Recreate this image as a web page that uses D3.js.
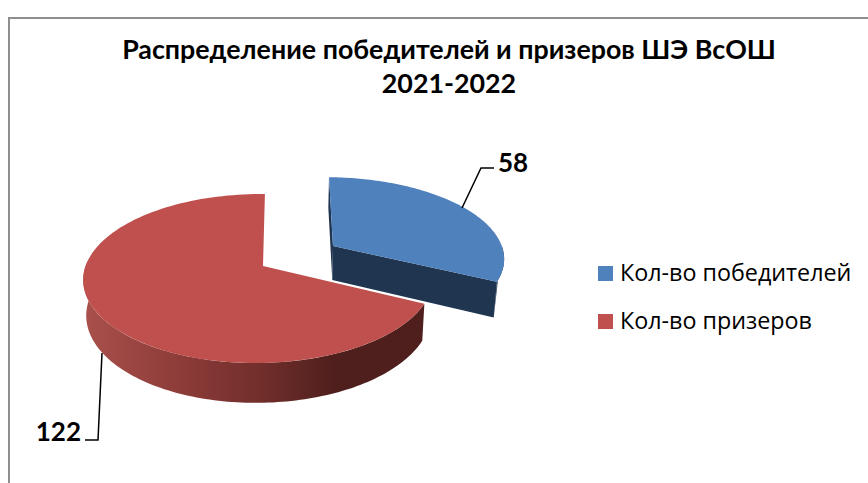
<!DOCTYPE html>
<html lang="ru">
<head>
<meta charset="utf-8">
<title>Распределение победителей и призеров</title>
<script src="https://cdn.jsdelivr.net/npm/d3@7"></script>
<style>
html, body { margin: 0; padding: 0; background: #fff; }
svg { display: block; }
text { font-family: Lato, "Noto Sans", sans-serif; fill: #000; }
</style>
</head>
<body>
<script>
var categories = ["Кол-во победителей", "Кол-во призеров"];
var values = [58, 122];
var titleLines = ["Распределение победителей и призеров ШЭ ВсОШ", "2021-2022"];
var topColors = ["#4f81bd", "#c0504d"];

var w = 868, h = 483;
// flat pie seen from above in perspective
var R = 173, S = 82.6, kY = 0.148, kX = 0.025;
var centers = [[333, 246], [263, 266]];
var depthScale = [0.95, 1]; // the exploded slice is further back, so flatter
var vanishX = 285;

var svg = d3.select("body").append("svg").attr("width", w).attr("height", h);

var grad = svg.append("defs").append("linearGradient")
    .attr("id", "redWall").attr("gradientUnits", "userSpaceOnUse")
    .attr("x1", 88).attr("x2", 425).attr("y1", 0).attr("y2", 0);
[[0, "#a84f4b"], [0.3, "#8a3a37"], [0.52, "#702e2b"], [0.73, "#4f1f1d"], [1, "#4f1f1d"]].forEach(function(s) {
    grad.append("stop").attr("offset", s[0]).attr("stop-color", s[1]);
});

// frame, open on the right and at the bottom
svg.append("path")
    .attr("d", d3.line()([[9, h], [9, 18], [w, 18]]))
    .attr("fill", "none").attr("stroke", "#8e8e8e").attr("stroke-width", 2);

svg.selectAll("text.title").data(titleLines).enter().append("text")
    .attr("class", "title")
    .attr("x", 449)
    .attr("y", function(d, i) { return 59 + i * 34; })
    .attr("text-anchor", "middle")
    .attr("font-size", 26.8)
    .attr("font-weight", 700)
    .text(function(d) { return d; });

var pie = d3.pie().sort(null)(values);
var line = d3.line();

function topPoint(c, a, ry) {
    var u = Math.sin(a), v = -Math.cos(a) * ry;
    var d = 1 - kY * v + kX * u;
    var skew = (c[0] - vanishX) * 0.1;
    return [c[0] + (R * u + skew * v) / d, c[1] + S * v / d];
}
function bottomPoint(p) {
    return [p[0] - (p[0] - vanishX) * 0.015, p[1] + 34 + 0.05 * (p[1] - 246)];
}
function arcPoints(c, a0, a1, ry) {
    var n = 120;
    return d3.range(n + 1).map(function(i) { return topPoint(c, a0 + (a1 - a0) * i / n, ry); });
}

// red slice first, the blue one sits behind and to the right
var red = pie[1], redC = centers[1];
var redArc = arcPoints(redC, red.startAngle, red.endAngle, depthScale[1]);
// the wall stops where the rim turns away, just past the left edge
var redFront = arcPoints(redC, red.startAngle, 1.52 * Math.PI, depthScale[1]);
svg.append("path")
    .attr("d", line(redFront.concat(redFront.map(bottomPoint).reverse())) + "Z")
    .attr("fill", "url(#redWall)");
svg.append("path")
    .attr("d", line([redC].concat(redArc)) + "Z")
    .attr("fill", topColors[1]);

var blue = pie[0], blueC = centers[0];
var blueArc = arcPoints(blueC, blue.startAngle, blue.endAngle, depthScale[0]);
var first = blueArc[0], last = blueArc[blueArc.length - 1];
var blueRim = arcPoints(blueC, 0.5 * Math.PI, blue.endAngle, depthScale[0]);
var walls = [
    blueRim.concat([bottomPoint(last)]),
    [first, blueC, bottomPoint(blueC), bottomPoint(first)],
    [blueC, last, bottomPoint(last), bottomPoint(blueC)]
];
svg.selectAll("path.blueWall").data(walls).enter().append("path")
    .attr("class", "blueWall")
    .attr("d", function(d) { return line(d) + "Z"; })
    .attr("fill", "#1f3550");
svg.append("path")
    .attr("d", line([blueC].concat(blueArc)) + "Z")
    .attr("fill", topColors[0]);

// leader lines and value labels
var leaders = [
    [[462, 208], [481, 168], [494, 168]],
    [[102, 353], [98, 440], [85, 440]]
];
svg.selectAll("path.leader").data(leaders).enter().append("path")
    .attr("class", "leader")
    .attr("d", function(d) { return line(d); })
    .attr("fill", "none").attr("stroke", "#000").attr("stroke-width", 1.5);

var labelPos = [[498, 172, "start"], [81, 441, "end"]];
svg.selectAll("text.value").data(values).enter().append("text")
    .attr("class", "value")
    .attr("x", function(d, i) { return labelPos[i][0]; })
    .attr("y", function(d, i) { return labelPos[i][1]; })
    .attr("text-anchor", function(d, i) { return labelPos[i][2]; })
    .attr("font-size", 26)
    .attr("font-weight", 700)
    .text(function(d) { return d; });

// legend
var legend = svg.selectAll("g.legend").data(categories).enter().append("g")
    .attr("class", "legend")
    .attr("transform", function(d, i) { return "translate(598," + (266 + i * 48) + ")"; });
legend.append("rect")
    .attr("width", 15).attr("height", 15)
    .attr("fill", function(d, i) { return topColors[i]; });
legend.append("text")
    .attr("x", 22).attr("y", 15)
    .attr("font-size", 23.3)
    .style("font-family", "'Open Sans', 'Noto Sans', sans-serif")
    .text(function(d) { return d; });
</script>
</body>
</html>
